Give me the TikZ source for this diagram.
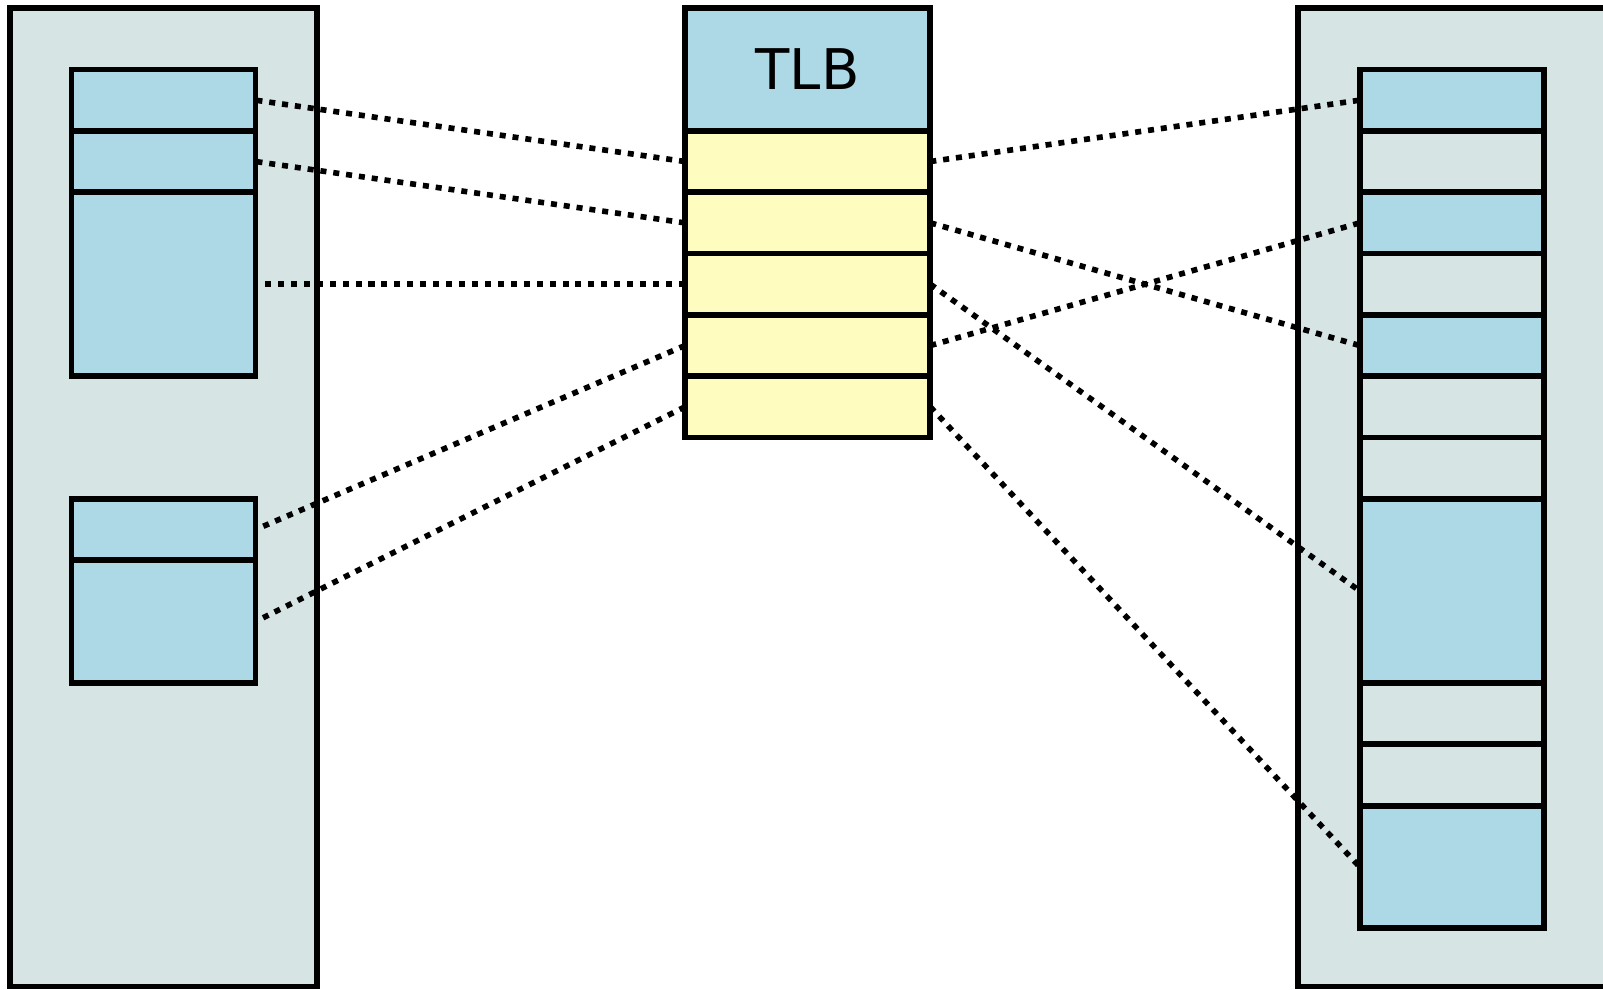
\documentclass[tikz,border=0pt]{standalone}
\usepackage{fontspec}
\setmainfont{DejaVu Sans}
\definecolor{outerfill}{RGB}{215,228,228}
\definecolor{cellblue}{RGB}{173,216,230}
\definecolor{cellyellow}{RGB}{255,252,192}
\tikzset{
  box/.style={draw=black, line width=2.7pt, rectangle, inner sep=0pt, outer sep=0pt, minimum width=3cm},
  outerbox/.style={box, fill=outerfill, minimum width=5cm, minimum height=15.95cm},
  bluecell/.style={box, fill=cellblue},
  graycell/.style={box, fill=outerfill},
  tlbcell/.style={box, fill=cellyellow, minimum width=4cm, minimum height=1cm},
  link/.style={line width=2.6pt, dash pattern=on 2.8pt off 3.2pt, line cap=butt}
}
\begin{document}
\begin{tikzpicture}
\useasboundingbox (0,0) rectangle (26.1333,-16.1333);
\clip (0,0) rectangle (26.1333,-16.1333);
% left outer
\node[outerbox] (Lout) at (2.6667,-8.1083) {};
% right outer (extends past right edge)
\node[outerbox, minimum width=7cm] (Rout) at (24.6667,-8.1083) {};
% left inner cells
\node[bluecell, minimum height=1cm] (L1) at (2.6667,-1.6333) {};
\node[bluecell, minimum height=1cm] (L2) at (2.6667,-2.6333) {};
\node[bluecell, minimum height=3cm] (L3) at (2.6667,-4.6333) {};
\node[bluecell, minimum height=1cm] (L4) at (2.6667,-8.6333) {};
\node[bluecell, minimum height=2cm] (L5) at (2.6667,-10.1333) {};
% TLB
\node[box, fill=cellblue, minimum width=4cm, minimum height=2cm, font=\fontsize{26}{30}\selectfont] (TLB) at (13.1667,-1.1333) {TLB};
\node[tlbcell] (T1) at (13.1667,-2.6333) {};
\node[tlbcell] (T2) at (13.1667,-3.6333) {};
\node[tlbcell] (T3) at (13.1667,-4.6333) {};
\node[tlbcell] (T4) at (13.1667,-5.6333) {};
\node[tlbcell] (T5) at (13.1667,-6.6333) {};
% right inner cells
\node[bluecell, minimum height=1cm] (R1) at (23.6667,-1.6333) {};
\node[graycell, minimum height=1cm] (R2) at (23.6667,-2.6333) {};
\node[bluecell, minimum height=1cm] (R3) at (23.6667,-3.6333) {};
\node[graycell, minimum height=1cm] (R4) at (23.6667,-4.6333) {};
\node[bluecell, minimum height=1cm] (R5) at (23.6667,-5.6333) {};
\node[graycell, minimum height=1cm] (R6) at (23.6667,-6.6333) {};
\node[graycell, minimum height=1cm] (R7) at (23.6667,-7.6333) {};
\node[bluecell, minimum height=3cm] (R8) at (23.6667,-9.6333) {};
\node[graycell, minimum height=1cm] (R9) at (23.6667,-11.6333) {};
\node[graycell, minimum height=1cm] (R10) at (23.6667,-12.6333) {};
\node[bluecell, minimum height=2cm] (R11) at (23.6667,-14.1333) {};
% links
\draw[link] (T1.west) -- (L1.east);
\draw[link] (T2.west) -- (L2.east);
\draw[link] (T3.west) -- (L3.east);
\draw[link] (T4.west) -- (L4.east);
\draw[link] (T5.west) -- (L5.east);
\draw[link] (T1.east) -- (R1.west);
\draw[link] (T2.east) -- (R5.west);
\draw[link] (T3.east) -- (R8.west);
\draw[link] (T4.east) -- (R3.west);
\draw[link] (T5.east) -- (R11.west);
\end{tikzpicture}
\end{document}
